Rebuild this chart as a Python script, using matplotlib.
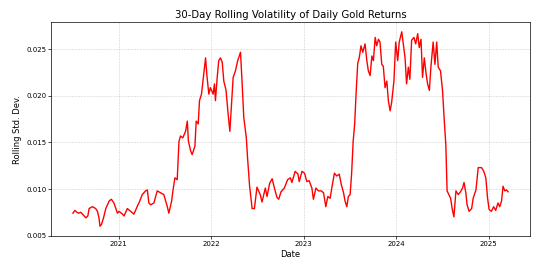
import pandas as pd
import matplotlib
matplotlib.use("Agg")
import matplotlib.pyplot as plt

# values (approx. every ~5-10 days)
dates = [
    "2020-07-04", "2020-07-12", "2020-07-20", "2020-07-27", "2020-08-04", "2020-08-11",
    "2020-08-24", "2020-09-01", "2020-09-06", "2020-09-19", "2020-10-02", "2020-10-09",
    "2020-10-15", "2020-10-19", "2020-10-25", "2020-11-02", "2020-11-11", "2020-11-24",
    "2020-12-03", "2020-12-13", "2020-12-27", "2021-01-02", "2021-01-16", "2021-01-22",
    "2021-02-04", "2021-02-17", "2021-03-02", "2021-03-18", "2021-03-22", "2021-04-04",
    "2021-04-17", "2021-04-24", "2021-04-30", "2021-05-07", "2021-05-20", "2021-06-02",
    "2021-06-15", "2021-06-28", "2021-07-12", "2021-07-18", "2021-07-29", "2021-08-03",
    "2021-08-11", "2021-08-20", "2021-08-27", "2021-09-02", "2021-09-11", "2021-09-22",
    "2021-09-29", "2021-10-03", "2021-10-12", "2021-10-18", "2021-10-29", "2021-11-03",
    "2021-11-11", "2021-11-16", "2021-11-24", "2021-12-03", "2021-12-10", "2021-12-16",
    "2021-12-23", "2021-12-29", "2022-01-09", "2022-01-14", "2022-01-18", "2022-01-25",
    "2022-01-31", "2022-02-07", "2022-02-14", "2022-02-20", "2022-03-01", "2022-03-08",
    "2022-03-16", "2022-03-22", "2022-03-29", "2022-04-07", "2022-04-16", "2022-04-27",
    "2022-05-03", "2022-05-10", "2022-05-20", "2022-05-25", "2022-06-02", "2022-06-12",
    "2022-06-21", "2022-07-01", "2022-07-14", "2022-07-21", "2022-08-03", "2022-08-10",
    "2022-08-20", "2022-08-30", "2022-09-08", "2022-09-18", "2022-09-25", "2022-10-04",
    "2022-10-17", "2022-10-30", "2022-11-10", "2022-11-16", "2022-11-29", "2022-12-10",
    "2022-12-15", "2022-12-26", "2023-01-05", "2023-01-14", "2023-01-23", "2023-02-03",
    "2023-02-09", "2023-02-19", "2023-03-01", "2023-03-12", "2023-03-21", "2023-03-30",
    "2023-04-07", "2023-04-16", "2023-04-25", "2023-05-03", "2023-05-12", "2023-05-22",
    "2023-05-30", "2023-06-08", "2023-06-14", "2023-06-21", "2023-06-27", "2023-07-04",
    "2023-07-10", "2023-07-16", "2023-07-22", "2023-07-28", "2023-08-03", "2023-08-09",
    "2023-08-16", "2023-08-23", "2023-09-01", "2023-09-08", "2023-09-14", "2023-09-21",
    "2023-09-28", "2023-10-04", "2023-10-11", "2023-10-17", "2023-10-24", "2023-10-30",
    "2023-11-06", "2023-11-12", "2023-11-19", "2023-11-26", "2023-12-02", "2023-12-09",
    "2023-12-15", "2023-12-24", "2023-12-31", "2024-01-08", "2024-01-14", "2024-01-24",
    "2024-01-30", "2024-02-06", "2024-02-12", "2024-02-19", "2024-02-25", "2024-03-03",
    "2024-03-12", "2024-03-19", "2024-03-27", "2024-04-02", "2024-04-09", "2024-04-15",
    "2024-04-22", "2024-04-29", "2024-05-05", "2024-05-12", "2024-05-18", "2024-05-27",
    "2024-06-03", "2024-06-10", "2024-06-16", "2024-06-25", "2024-07-03", "2024-07-10",
    "2024-07-16", "2024-07-21", "2024-07-28", "2024-08-04", "2024-08-10", "2024-08-17",
    "2024-08-25", "2024-09-03", "2024-09-12", "2024-09-20", "2024-09-26", "2024-10-03",
    "2024-10-08", "2024-10-16", "2024-10-26", "2024-11-01", "2024-11-12", "2024-11-21",
    "2024-12-04", "2024-12-13", "2024-12-21", "2024-12-28", "2025-01-03", "2025-01-12",
    "2025-01-21", "2025-01-29", "2025-02-07", "2025-02-14", "2025-02-21", "2025-02-27",
    "2025-03-06", "2025-03-13", "2025-03-19",
]
volatility = [
    0.0074, 0.0077, 0.0075, 0.0074, 0.0075, 0.0073,
    0.0069, 0.0071, 0.0079, 0.0081, 0.0079, 0.0076,
    0.0069, 0.0060, 0.0062, 0.0069, 0.0079, 0.0087,
    0.0089, 0.0085, 0.0074, 0.0076, 0.0073, 0.0071,
    0.0079, 0.0076, 0.0073, 0.0083, 0.0085, 0.0094,
    0.0098, 0.0099, 0.0085, 0.0083, 0.0085, 0.0098,
    0.0096, 0.0094, 0.0081, 0.0074, 0.0087, 0.0098,
    0.0112, 0.0110, 0.0151, 0.0157, 0.0155, 0.0162,
    0.0173, 0.0152, 0.0141, 0.0137, 0.0146, 0.0173,
    0.0170, 0.0195, 0.0202, 0.0224, 0.0241, 0.0220,
    0.0202, 0.0209, 0.0202, 0.0213, 0.0195, 0.0220,
    0.0238, 0.0241, 0.0236, 0.0216, 0.0206, 0.0184,
    0.0162, 0.0189, 0.0220, 0.0227, 0.0238, 0.0247,
    0.0216, 0.0177, 0.0155, 0.0133, 0.0103, 0.0079,
    0.0079, 0.0102, 0.0094, 0.0086, 0.0101, 0.0092,
    0.0106, 0.0111, 0.0101, 0.0091, 0.0089, 0.0097,
    0.0101, 0.0110, 0.0112, 0.0107, 0.0119, 0.0116,
    0.0108, 0.0119, 0.0117, 0.0108, 0.0109, 0.0101,
    0.0089, 0.0101, 0.0098, 0.0098, 0.0096, 0.0081,
    0.0092, 0.0090, 0.0105, 0.0117, 0.0114, 0.0116,
    0.0105, 0.0096, 0.0087, 0.0081, 0.0092, 0.0094,
    0.0117, 0.0151, 0.0170, 0.0205, 0.0235, 0.0241,
    0.0254, 0.0247, 0.0256, 0.0238, 0.0227, 0.0222,
    0.0243, 0.0238, 0.0263, 0.0254, 0.0261, 0.0258,
    0.0234, 0.0232, 0.0209, 0.0216, 0.0195, 0.0184,
    0.0193, 0.0216, 0.0258, 0.0238, 0.0258, 0.0269,
    0.0256, 0.0241, 0.0213, 0.0231, 0.0218, 0.0260,
    0.0263, 0.0256, 0.0267, 0.0252, 0.0261, 0.0220,
    0.0241, 0.0224, 0.0213, 0.0206, 0.0231, 0.0258,
    0.0234, 0.0258, 0.0231, 0.0227, 0.0206, 0.0173,
    0.0148, 0.0098, 0.0094, 0.0090, 0.0079, 0.0070,
    0.0098, 0.0094, 0.0097, 0.0101, 0.0107, 0.0096,
    0.0083, 0.0076, 0.0079, 0.0090, 0.0099, 0.0123,
    0.0123, 0.0119, 0.0112, 0.0090, 0.0078, 0.0076,
    0.0081, 0.0077, 0.0085, 0.0081, 0.0087, 0.0103,
    0.0098, 0.0099, 0.0097,
]

df = pd.DataFrame({"Date": pd.to_datetime(dates), "Volatility": volatility})

fig, ax = plt.subplots(figsize=(5.44, 2.66), dpi=100)
ax.plot(df["Date"], df["Volatility"], color="red", linewidth=1)
ax.set_title("30-Day Rolling Volatility of Daily Gold Returns", fontsize=7.3, pad=3)
ax.set_xlabel("Date", fontsize=6, labelpad=2)
ax.set_ylabel("Rolling Std. Dev.", fontsize=6, labelpad=3)
ax.tick_params(labelsize=5, length=2, width=0.5, pad=1.5)
ax.grid(True, linestyle="--", linewidth=0.4, alpha=0.6)
for s in ax.spines.values():
    s.set_linewidth(0.5)
fig.subplots_adjust(left=0.094, right=0.974, bottom=0.113, top=0.917)
fig.savefig("out.png", dpi=100)
plt.close(fig)
